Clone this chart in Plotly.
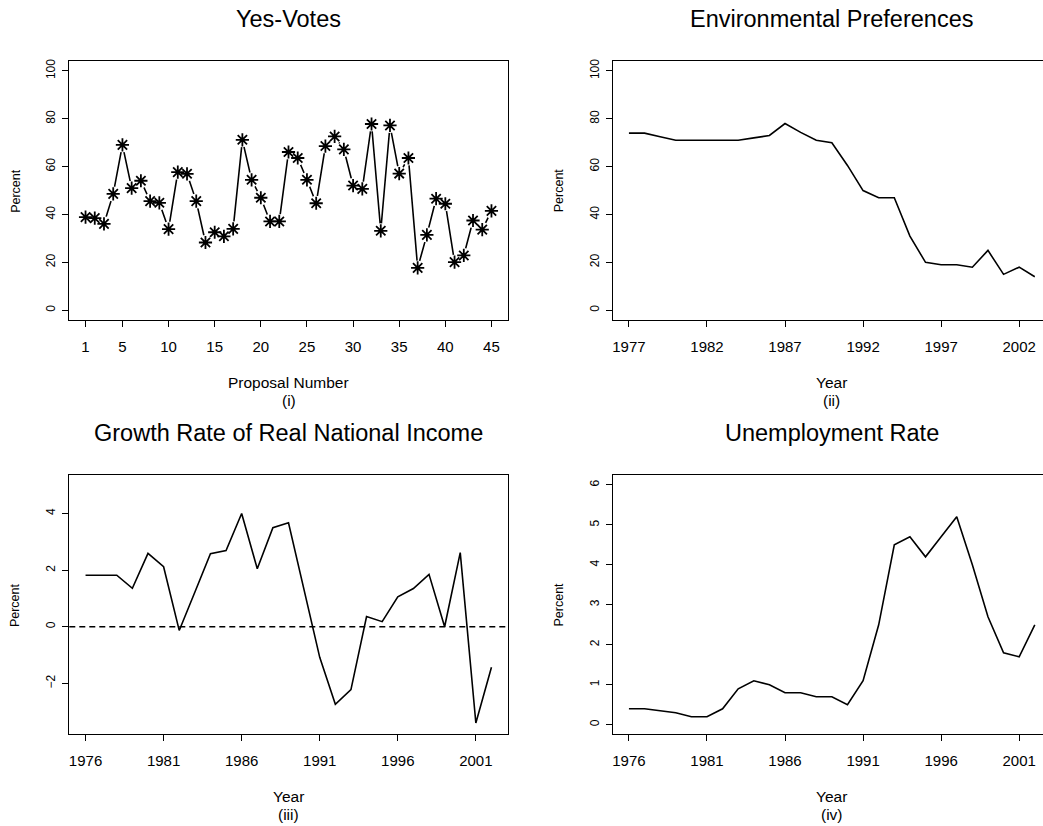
import plotly.graph_objects as go

# ---------------- data ----------------
proposal_number = list(range(1, 46))
yes_votes = [38.9, 38.5, 36.1, 48.6, 69.1, 51.0, 54.1, 45.6, 44.9, 33.9,
             57.7, 57.0, 45.6, 28.3, 32.6, 30.9, 34.0, 71.2, 54.5, 47.0,
             37.1, 37.1, 66.1, 63.6, 54.5, 44.7, 68.6, 72.6, 67.2, 52.1,
             50.7, 77.8, 33.2, 77.2, 57.1, 63.6, 17.7, 31.5, 46.6, 44.5,
             20.1, 22.9, 37.5, 33.7, 41.5]

env_years = list(range(1977, 2004))
env_pref = [74, 74, 72.5, 71, 71, 71, 71, 71, 72, 73, 78, 74.3, 71, 70,
            60.5, 50, 47, 47, 31, 20, 19, 19, 18, 25, 15, 18, 14]

growth_years = list(range(1976, 2003))
growth = [1.82, 1.82, 1.82, 1.36, 2.59, 2.12, -0.13, 1.22, 2.58, 2.69,
          4.0, 2.05, 3.5, 3.67, 1.30, -1.08, -2.74, -2.22, 0.36, 0.18,
          1.06, 1.35, 1.85, 0.0, 2.62, -3.40, -1.43]

unemp_years = list(range(1976, 2003))
unemp = [0.4, 0.4, 0.35, 0.3, 0.2, 0.2, 0.4, 0.9, 1.1, 1.0, 0.8, 0.8,
         0.7, 0.7, 0.5, 1.1, 2.5, 4.5, 4.7, 4.2, 4.7, 5.2, 4.0, 2.7,
         1.8, 1.7, 2.5]

titles = ["Yes-Votes", "Environmental Preferences",
          "Growth Rate of Real National Income", "Unemployment Rate"]
xlabels = ["Proposal Number", "Year", "Year", "Year"]
sublabels = ["(i)", "(ii)", "(iii)", "(iv)"]

x_ticks1 = [1, 5, 10, 15, 20, 25, 30, 35, 40, 45]
x_ticks2 = [1977, 1982, 1987, 1992, 1997, 2002]
x_ticks34 = [1976, 1981, 1986, 1991, 1996, 2001]
y_ticks12 = [0, 20, 40, 60, 80, 100]
y_ticks3 = [-2, 0, 2, 4]
y_ticks4 = [0, 1, 2, 3, 4, 5, 6]

# ---------------- layout geometry (pixels) ----------------
W, H = 1043, 826
FONT = "Liberation Sans, Arial, Helvetica, sans-serif"
boxes = {  # left, right, top, bottom in px
    1: (69.3, 507.7, 58.5, 318.0),
    2: (612.7, 1043.0, 58.5, 318.0),
    3: (69.3, 507.7, 474.0, 734.0),
    4: (612.7, 1043.0, 474.0, 734.0),
}

def xd(b):
    return [b[0] / W, min(b[1] / W, 1.0)]

def yd(b):
    return [1 - b[3] / H, 1 - b[2] / H]

fig = go.Figure()
LW = 1.6
line_style = dict(color="black", width=LW)

# Panel 1
fig.add_trace(go.Scatter(x=proposal_number, y=yes_votes, mode="lines",
                         line=line_style, xaxis="x", yaxis="y", hoverinfo="skip"))
fig.add_trace(go.Scatter(x=proposal_number, y=yes_votes, mode="markers",
                         marker=dict(symbol="circle", size=15, color="white",
                                     line=dict(width=0)),
                         xaxis="x", yaxis="y", hoverinfo="skip"))
fig.add_trace(go.Scatter(x=proposal_number, y=yes_votes, mode="markers",
                         marker=dict(symbol="asterisk-open", size=11, color="black",
                                     line=dict(width=1.8, color="black")),
                         xaxis="x", yaxis="y"))
# Panel 2
fig.add_trace(go.Scatter(x=env_years, y=env_pref, mode="lines", line=line_style,
                         xaxis="x2", yaxis="y2"))
# Panel 3
fig.add_trace(go.Scatter(x=growth_years, y=growth, mode="lines", line=line_style,
                         xaxis="x3", yaxis="y3"))
# Panel 4
fig.add_trace(go.Scatter(x=unemp_years, y=unemp, mode="lines", line=line_style,
                         xaxis="x4", yaxis="y4"))

# dashed zero line in panel 3
fig.add_shape(type="line", xref="x3 domain", yref="y3", x0=0, x1=1, y0=0, y1=0,
              line=dict(color="black", width=1.3, dash="6px,4px"))

def xaxis(b, rng, ticks, anchor):
    return dict(domain=xd(b), range=rng, tickvals=ticks, ticks="outside",
                anchor=anchor,
                ticklen=6, tickwidth=1, tickcolor="black", showline=True,
                linecolor="black", linewidth=1.2, mirror=True, showgrid=False,
                zeroline=False, tickfont=dict(size=15, color="black", family=FONT),
                ticklabelstandoff=7)

def yaxis(b, rng, ticks, mirror, anchor):
    return dict(domain=yd(b), range=rng, tickvals=ticks, ticks="outside",
                anchor=anchor,
                ticklen=6, tickwidth=1, tickcolor="black", showline=True,
                linecolor="black", linewidth=1.2, mirror=mirror, showgrid=False,
                zeroline=False, tickangle=-90,
                tickfont=dict(size=12, color="black", family=FONT),
                ticklabelstandoff=2)

px_per_year = 15.61
x2_lo = 1977 - 1.04
x2_hi = x2_lo + (W - boxes[2][0]) / px_per_year
x4_lo = 1976 - 1.04
x4_hi = x4_lo + (W - boxes[4][0]) / px_per_year

fig.update_layout(
    width=W, height=H, margin=dict(l=0, r=0, t=0, b=0),
    paper_bgcolor="white", plot_bgcolor="white", showlegend=False,
    font=dict(family=FONT, color="black"),
    xaxis=xaxis(boxes[1], [1 - 1.76, 45 + 1.76], x_ticks1, "y"),
    yaxis=yaxis(boxes[1], [-4, 104], y_ticks12, True, "x"),
    xaxis2=xaxis(boxes[2], [x2_lo, x2_hi], x_ticks2, "y2"),
    yaxis2=yaxis(boxes[2], [-4, 104], y_ticks12, False, "x2"),
    xaxis3=xaxis(boxes[3], [1976 - 1.04, 2002 + 1.04], x_ticks34, "y3"),
    yaxis3=yaxis(boxes[3], [-3.80, 5.35], y_ticks3, True, "x3"),
    xaxis4=xaxis(boxes[4], [x4_lo, x4_hi], x_ticks34, "y4"),
    yaxis4=yaxis(boxes[4], [-0.24, 6.24], y_ticks4, False, "x4"),
)

# text annotations
plot_width_full = 438.4
for i in range(1, 5):
    b = boxes[i]
    cx = (b[0] + b[0] + plot_width_full) / 2
    # title
    fig.add_annotation(xref="paper", yref="paper", x=cx / W, y=1 - (b[2] - 42) / H,
                       text=titles[i - 1], showarrow=False, xanchor="center",
                       yanchor="middle", font=dict(size=23.5, family=FONT, color="black"))
    # x label
    fig.add_annotation(xref="paper", yref="paper", x=cx / W, y=1 - (b[3] + 62.5) / H,
                       text=xlabels[i - 1], showarrow=False, xanchor="center",
                       yanchor="middle", font=dict(size=15.5, family=FONT, color="black"))
    fig.add_annotation(xref="paper", yref="paper", x=cx / W, y=1 - (b[3] + 80.5) / H,
                       text=sublabels[i - 1], showarrow=False, xanchor="center",
                       yanchor="middle", font=dict(size=15.5, family=FONT, color="black"))
    # y label
    fig.add_annotation(xref="paper", yref="paper", x=(b[0] - 54) / W,
                       y=1 - ((b[2] + b[3]) / 2) / H, text="Percent", textangle=-90,
                       showarrow=False, xanchor="center", yanchor="middle",
                       font=dict(size=12.5, family=FONT, color="black"))

fig.write_html("out.html",
               config={"displayModeBar": False},
               post_script="document.body.style.margin='0';"
                           "document.body.style.overflow='hidden';")
